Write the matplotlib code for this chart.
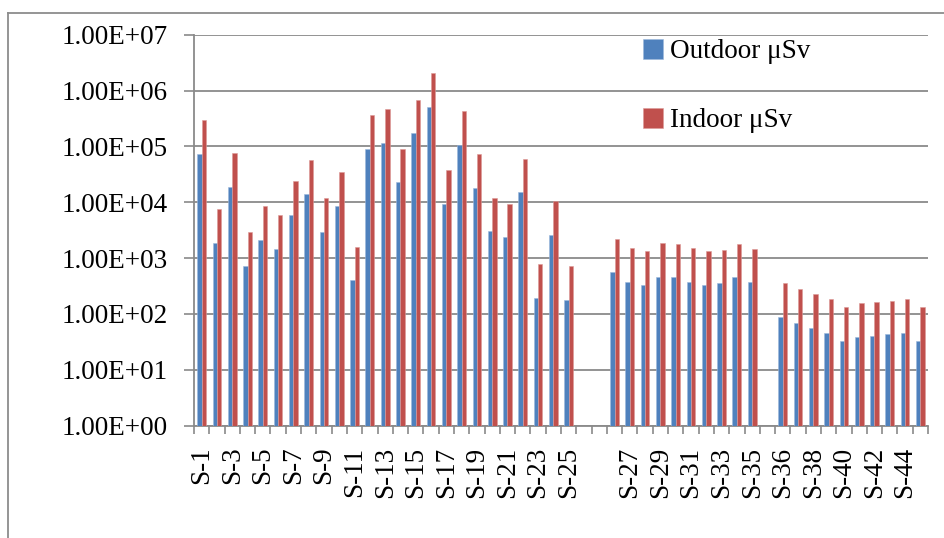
import numpy as np
import matplotlib
matplotlib.use('Agg')
import matplotlib.pyplot as plt
from matplotlib.lines import Line2D
from matplotlib.ticker import FixedLocator, FuncFormatter, NullLocator

# categories (blank slots are the empty gaps in the original sheet)
sites = (['S-%d' % i for i in range(1, 26)] + ['', ''] +
         ['S-%d' % i for i in range(26, 36)] + [''] +
         ['S-%d' % i for i in range(36, 46)])

outdoor = [7.4e4, 1.85e3, 1.9e4, 7.3e2, 2.1e3, 1.45e3, 6.0e3, 1.4e4, 2.95e3, 8.7e3,
           4.0e2, 9.1e4, 1.17e5, 2.3e4, 1.75e5, 5.1e5, 9.3e3, 1.05e5, 1.8e4, 3.0e3,
           2.35e3, 1.5e4, 1.93e2, 2.6e3, 1.78e2,
           np.nan, np.nan,
           5.6e2, 3.75e2, 3.3e2, 4.65e2, 4.55e2, 3.75e2, 3.3e2, 3.55e2, 4.5e2, 3.7e2,
           np.nan,
           89, 68, 57, 46, 33, 39, 40, 43, 46, 33]

indoor = [2.97e5, 7.5e3, 7.5e4, 2.9e3, 8.5e3, 5.85e3, 2.4e4, 5.6e4, 1.2e4, 3.5e4,
          1.6e3, 3.66e5, 4.7e5, 9.0e4, 6.9e5, 2.07e6, 3.73e4, 4.27e5, 7.2e4, 1.2e4,
          9.4e3, 6.0e4, 7.8e2, 1.04e4, 7.2e2,
          np.nan, np.nan,
          2.23e3, 1.5e3, 1.34e3, 1.87e3, 1.82e3, 1.5e3, 1.32e3, 1.42e3, 1.79e3, 1.48e3,
          np.nan,
          362, 278, 230, 183, 133, 158, 162, 171, 183, 133]

labels = ['Outdoor \u03bcSv', 'Indoor \u03bcSv']
colors = ['#4F81BD', '#C0504D']
grid_col = '#8a8a8a'
serif = ['Liberation Serif', 'DejaVu Serif']

fig = plt.figure(figsize=(9.45, 5.38), dpi=100)
ax = fig.add_axes([194 / 945, 1 - 425.7 / 538, (928 - 194) / 945, (425.7 - 34.7) / 538])

x = np.arange(len(sites))
w = 0.286
ax.bar(x - w / 2, outdoor, w, color=colors[0], edgecolor='#9db8dc', linewidth=0.4,
       label=labels[0], zorder=3)
ax.bar(x + w / 2, indoor, w, color=colors[1], edgecolor='#dc9a98', linewidth=0.4,
       label=labels[1], zorder=3)

ax.set_yscale('log')
ax.set_ylim(1, 1e7)
ax.set_xlim(-0.5, len(sites) - 0.5)

ax.yaxis.set_major_locator(FixedLocator([10.0 ** k for k in range(8)]))
ax.yaxis.set_minor_locator(NullLocator())
ax.yaxis.set_major_formatter(FuncFormatter(lambda v, p: '%.2E' % v))
ax.grid(axis='y', color=grid_col, linewidth=1.3, zorder=0)
ax.tick_params(axis='y', which='major', direction='out', length=7, width=1.2,
               color=grid_col, pad=12, labelsize=19.5)

# boundary ticks between categories, labels on every other category centre
ax.xaxis.set_major_locator(FixedLocator(np.arange(-0.5, len(sites), 1.0)))
ax.xaxis.set_major_formatter(FuncFormatter(lambda v, p: ''))
ax.xaxis.set_minor_locator(FixedLocator(x[::2]))
ax.xaxis.set_minor_formatter(FuncFormatter(lambda v, p: sites[int(round(v))]))
ax.tick_params(axis='x', which='major', direction='out', length=6, width=1.2,
               color=grid_col)
ax.tick_params(axis='x', which='minor', length=0, pad=15, labelsize=19.5,
               labelrotation=90)
for t in ax.get_xticklabels(minor=True) + ax.get_yticklabels():
    t.set_fontfamily(serif)
    t.set_color('black')

for s in ['top', 'right']:
    ax.spines[s].set_visible(False)
for s in ['left', 'bottom']:
    ax.spines[s].set_color(grid_col)
    ax.spines[s].set_linewidth(1.3)

leg = fig.legend(loc='upper left', bbox_to_anchor=(643 / 945, 1 - 39 / 538),
                 frameon=False, borderpad=0, borderaxespad=0,
                 handlelength=0.75, handleheight=0.75,
                 handletextpad=0.25, labelspacing=1.6,
                 prop={'family': serif, 'size': 19.5})

# chart border (left and top edges visible in the reference)
fig.add_artist(Line2D([8 / 945, 8 / 945], [0, 1 - 13 / 538], color='#8c8c8c',
                      linewidth=1.3, transform=fig.transFigure))
fig.add_artist(Line2D([8 / 945, 1], [1 - 13 / 538, 1 - 13 / 538], color='#8c8c8c',
                      linewidth=1.3, transform=fig.transFigure))

fig.savefig('out.png', dpi=100)
